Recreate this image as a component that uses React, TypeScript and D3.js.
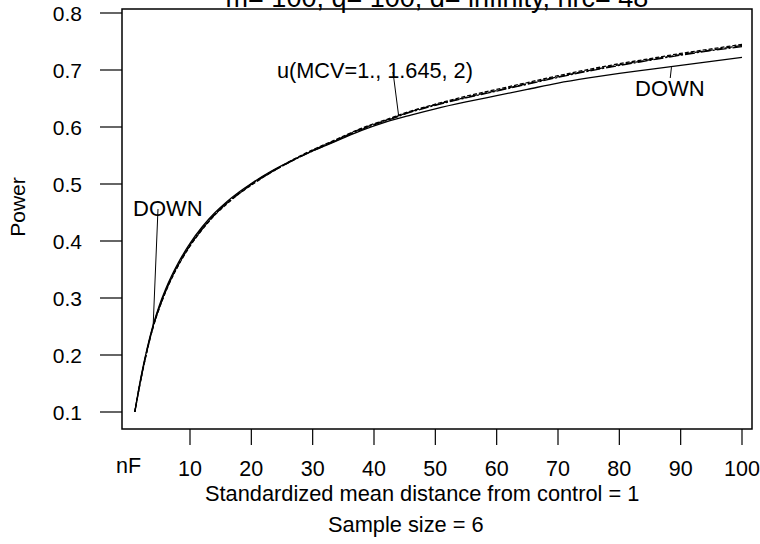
import React from "react";
import * as d3 from "d3";

const nValues = [1, 2, 3, 4, 5, 6, 7, 8, 9, 10, 12, 14, 16, 18, 20, 23, 26, 30, 34, 38, 42, 46, 50, 55, 60, 65, 70, 75, 80, 85, 90, 95, 100];
const powerDown = [0.100, 0.161, 0.211, 0.253, 0.287, 0.315, 0.339, 0.360, 0.379, 0.396, 0.425, 0.449, 0.469, 0.486, 0.501, 0.521, 0.538, 0.558, 0.576, 0.594, 0.609, 0.621, 0.632, 0.644, 0.655, 0.666, 0.677, 0.686, 0.694, 0.701, 0.708, 0.715, 0.722];
const powerMcv1 = [0.100, 0.158, 0.208, 0.250, 0.283, 0.311, 0.335, 0.356, 0.375, 0.392, 0.421, 0.446, 0.466, 0.483, 0.499, 0.519, 0.537, 0.559, 0.578, 0.597, 0.612, 0.627, 0.639, 0.652, 0.664, 0.676, 0.688, 0.699, 0.709, 0.718, 0.727, 0.735, 0.743];
const powerMcv1645 = [0.100, 0.157, 0.207, 0.249, 0.282, 0.310, 0.334, 0.355, 0.374, 0.391, 0.420, 0.445, 0.465, 0.483, 0.498, 0.519, 0.538, 0.560, 0.579, 0.598, 0.613, 0.628, 0.640, 0.654, 0.666, 0.678, 0.690, 0.701, 0.711, 0.720, 0.729, 0.737, 0.745];
const powerMcv2 = [0.100, 0.159, 0.209, 0.251, 0.284, 0.312, 0.336, 0.357, 0.376, 0.393, 0.422, 0.446, 0.467, 0.484, 0.500, 0.520, 0.537, 0.558, 0.577, 0.596, 0.611, 0.626, 0.638, 0.651, 0.663, 0.675, 0.687, 0.698, 0.708, 0.717, 0.726, 0.734, 0.741];

const xTicks = [10, 20, 30, 40, 50, 60, 70, 80, 90, 100];
const yTicks = [0.1, 0.2, 0.3, 0.4, 0.5, 0.6, 0.7, 0.8];

const titleText = "m= 100, q= 100, d= infinity, nrc= 48";
const xTitle = "Standardized mean distance from control = 1";
const subTitle = "Sample size = 6";
const yTitle = "Power";
const mcvLabel = "u(MCV=1., 1.645, 2)";
const downLabel = "DOWN";

const W = 760;
const H = 544;
const frame = { left: 122, right: 752, top: 9, bottom: 429 };

export default function App() {
  const x = d3.scaleLinear().domain([10, 100]).range([190, 742]);
  const y = d3.scaleLinear().domain([0.1, 0.8]).range([412, 13]);

  const line = d3
    .line<number>()
    .x((_, i) => x(nValues[i]))
    .y((d) => y(d))
    .curve(d3.curveMonotoneX);

  const series = [
    { data: powerDown, dash: undefined },
    { data: powerMcv1, dash: "8,2" },
    { data: powerMcv1645, dash: "4,2" },
    { data: powerMcv2, dash: "10,2,2,2" },
  ];

  const font = "'Liberation Sans', Arial, sans-serif";

  return (
    <svg
      width={W}
      height={H}
      style={{ position: "absolute", left: 0, top: 0, background: "#fff" }}
      fontFamily={font}
    >
      <rect x={0} y={0} width={W} height={H} fill="#fff" />
      {/* title (clipped at top, as in the reference) */}
      <text x={(frame.left + frame.right) / 2} y={7} fontSize={27} textAnchor="middle" fill="#000">
        {titleText}
      </text>

      {/* frame */}
      <rect
        x={frame.left}
        y={frame.top}
        width={frame.right - frame.left}
        height={frame.bottom - frame.top}
        fill="none"
        stroke="#000"
        strokeWidth={1.5}
      />

      {/* y ticks */}
      {yTicks.map((t) => (
        <g key={"y" + t}>
          <line x1={100} x2={frame.left} y1={y(t)} y2={y(t)} stroke="#000" strokeWidth={1.2} />
          <text x={82} y={y(t) + 7.5} fontSize={21} textAnchor="end" fill="#000">
            {t.toFixed(1)}
          </text>
        </g>
      ))}

      {/* x ticks */}
      {xTicks.map((t) => (
        <g key={"x" + t}>
          <line x1={x(t)} x2={x(t)} y1={frame.bottom} y2={445} stroke="#000" strokeWidth={1.2} />
          <text x={x(t)} y={476} fontSize={21.5} textAnchor="middle" fill="#000">
            {t}
          </text>
        </g>
      ))}
      <text x={x(0)} y={473} fontSize={21.5} textAnchor="middle" fill="#000">
        nF
      </text>

      {/* axis titles */}
      <text x={205} y={501} fontSize={21.8} fill="#000">
        {xTitle}
      </text>
      <text x={328} y={532} fontSize={21.8} fill="#000">
        {subTitle}
      </text>
      <text
        transform={`translate(25, 207) rotate(-90)`}
        fontSize={21}
        textAnchor="middle"
        fill="#000"
      >
        {yTitle}
      </text>

      {/* curves */}
      {series.map((s, i) => (
        <path
          key={i}
          d={line(s.data) || ""}
          fill="none"
          stroke="#000"
          strokeWidth={1.3}
          strokeDasharray={s.dash}
        />
      ))}

      {/* annotations */}
      <text x={277} y={78} fontSize={21.7} fill="#000">
        {mcvLabel}
      </text>
      <line x1={393} y1={72} x2={x(44)} y2={y(0.621)} stroke="#000" strokeWidth={1} />

      <text x={635} y={96} fontSize={22} fill="#000">
        {downLabel}
      </text>
      <line x1={x(88.5)} y1={y(0.705)} x2={x(88.3)} y2={78} stroke="#000" strokeWidth={1} />

      <text x={133} y={216} fontSize={22} fill="#000">
        {downLabel}
      </text>
      <line x1={158} y1={209} x2={x(4)} y2={y(0.253)} stroke="#000" strokeWidth={1} />
    </svg>
  );
}
